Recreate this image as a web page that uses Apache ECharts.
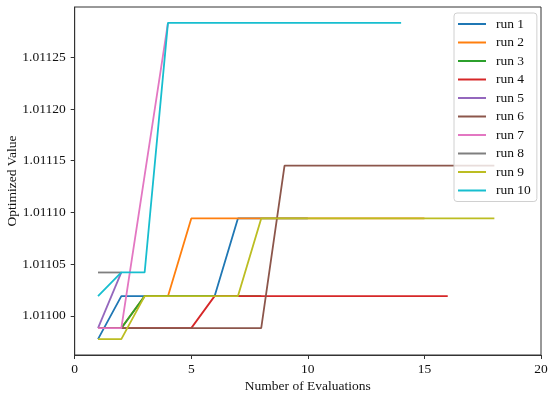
<!DOCTYPE html>
<html>
<head>
<meta charset="utf-8">
<script src="https://cdn.jsdelivr.net/npm/echarts@6/dist/echarts.min.js"></script>
<style>html,body{margin:0;padding:0;background:#fff}#c{width:550px;height:395px}</style>
</head>
<body>
<div id="c"></div>
<script>
// Series values (x = 1, 2, 3, ...)
const run1  = [1.0109774, 1.0110190, 1.0110190, 1.0110190, 1.0110190, 1.0110190, 1.0110942, 1.0110942, 1.0110942, 1.0110942];
const run2  = [1.0109881, 1.0109881, 1.0110190, 1.0110190, 1.0110942, 1.0110942, 1.0110942, 1.0110942, 1.0110942, 1.0110942, 1.0110942, 1.0110942, 1.0110942, 1.0110942, 1.0110942];
const run3  = [1.0109881, 1.0109881, 1.0110190, 1.0110190, 1.0110190, 1.0110190, 1.0110190, 1.0110190];
const run4  = [1.0109881, 1.0109881, 1.0109881, 1.0109881, 1.0109881, 1.0110190, 1.0110190, 1.0110190, 1.0110190, 1.0110190, 1.0110190, 1.0110190, 1.0110190, 1.0110190, 1.0110190, 1.0110190];
const run5  = [1.0109881, 1.0110419];
const run6  = [1.0109881, 1.0109881, 1.0109881, 1.0109881, 1.0109881, 1.0109881, 1.0109881, 1.0109881, 1.0111452, 1.0111452, 1.0111452, 1.0111452, 1.0111452, 1.0111452, 1.0111452, 1.0111452, 1.0111452, 1.0111452];
const run7  = [1.0109881, 1.0109881, 1.0111357, 1.0112833];
const run8  = [1.0110419, 1.0110419];
const run9  = [1.0109774, 1.0109774, 1.0110190, 1.0110190, 1.0110190, 1.0110190, 1.0110190, 1.0110942, 1.0110942, 1.0110942, 1.0110942, 1.0110942, 1.0110942, 1.0110942, 1.0110942, 1.0110942, 1.0110942, 1.0110942];
const run10 = [1.0110190, 1.0110419, 1.0110419, 1.0112833, 1.0112833, 1.0112833, 1.0112833, 1.0112833, 1.0112833, 1.0112833, 1.0112833, 1.0112833, 1.0112833, 1.0112833];

const runNames = ['run 1','run 2','run 3','run 4','run 5','run 6','run 7','run 8','run 9','run 10'];
const runData = [run1, run2, run3, run4, run5, run6, run7, run8, run9, run10];
const yTicks = [1.01100, 1.01105, 1.01110, 1.01115, 1.01120, 1.01125];
const xTicks = [0, 5, 10, 15, 20];

const colors = ['#1f77b4','#ff7f0e','#2ca02c','#d62728','#9467bd','#8c564b','#e377c2','#7f7f7f','#bcbd22','#17becf'];
const font = '"Liberation Serif", "DejaVu Serif", serif';

const series = runData.map((d, i) => ({
  name: runNames[i],
  type: 'line',
  data: d.map((v, j) => [j + 1, v]),
  showSymbol: false,
  symbol: 'none',
  lineStyle: { width: 1.8, color: colors[i] },
  itemStyle: { color: colors[i] },
  animation: false
}));

const chart = echarts.init(document.getElementById('c'), null, { renderer: 'canvas' });
chart.setOption({
  animation: false,
  color: colors,
  grid: { left: 74.7, right: 9, top: 7, bottom: 40, show: true, borderColor: '#333', borderWidth: 1,
          backgroundColor: 'transparent', containLabel: false, outerBoundsMode: 'none' },
  legend: {
    orient: 'vertical',
    left: 454, top: 13,
    padding: [4, 6, 4, 4],
    itemGap: 4.5,
    itemWidth: 28, itemHeight: 2,
    icon: 'rect',
    backgroundColor: 'rgba(255,255,255,0.8)',
    borderColor: '#d0d0d0', borderWidth: 1, borderRadius: 3,
    textStyle: { fontFamily: font, fontSize: 13.5, color: '#111', lineHeight: 14, padding: [0, 0, 0, 5] },
    data: runNames
  },
  xAxis: {
    type: 'value', min: 0, max: 20, interval: 5,
    name: 'Number of Evaluations', nameLocation: 'middle', nameGap: 24, nameMoveOverlap: false,
    nameTextStyle: { fontFamily: font, fontSize: 13.5, color: '#111' },
    axisLine: { show: true, lineStyle: { color: '#333', width: 1 } },
    axisTick: { show: true, inside: false, length: 4, lineStyle: { color: '#333' }, customValues: xTicks },
    axisLabel: { fontFamily: font, fontSize: 13.5, color: '#111', margin: 7, customValues: xTicks },
    splitLine: { show: false }
  },
  yAxis: {
    type: 'value', min: 1.0109621, max: 1.0112986, scale: true,
    name: 'Optimized Value', nameLocation: 'middle', nameGap: 55.5, nameRotate: 90, nameMoveOverlap: false,
    nameTextStyle: { fontFamily: font, fontSize: 13.5, color: '#111' },
    axisLine: { show: true, lineStyle: { color: '#333', width: 1 } },
    axisTick: { show: true, inside: false, length: 4, lineStyle: { color: '#333' }, customValues: yTicks },
    axisLabel: { fontFamily: font, fontSize: 13.5, color: '#111', margin: 9, customValues: yTicks,
      formatter: v => Number(v).toFixed(5) },
    splitLine: { show: false }
  },
  series: series
});
</script>
</body>
</html>
